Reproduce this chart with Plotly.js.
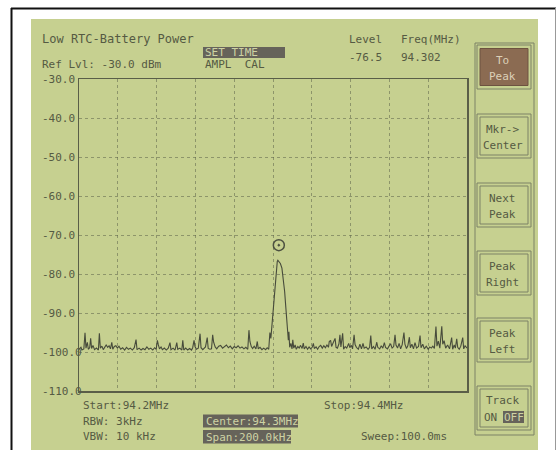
<!DOCTYPE html>
<html><head><meta charset="utf-8">
<script src="https://cdn.plot.ly/plotly-3.0.1.min.js"></script>
<style>html,body{margin:0;padding:0;background:#fff;}#chart{width:557px;height:450px;}</style>
</head><body><div id="chart"></div><script>
// Trace: frequency offset from 94.2 MHz (kHz) and level (dBm)
const freqKHz = [0.0,1.0,1.5,2.5,3.1,3.6,4.3,4.8,5.5,6.0,6.5,7.2,8.0,9.0,10.0,10.5,11.0,11.8,12.5,13.3,14.0,14.8,15.5,16.2,16.9,17.4,18.2,19.0,19.8,20.6,21.5,22.5,23.5,24.5,25.5,26.5,27.5,28.5,29.4,29.9,31.0,32.0,33.0,34.0,35.0,36.0,37.0,38.0,39.0,39.8,40.4,40.9,41.5,42.3,43.0,44.0,45.0,46.0,46.9,47.4,48.5,49.5,50.4,50.9,52.0,53.0,53.5,54.0,55.0,56.0,57.0,58.0,58.6,59.3,59.8,60.5,61.5,62.4,62.9,63.8,64.5,65.2,66.1,66.6,67.5,68.3,68.9,69.4,70.2,71.0,72.0,73.0,74.0,75.0,76.0,77.0,78.0,79.0,80.0,81.0,82.0,83.0,84.0,85.0,86.0,87.0,87.6,88.1,88.8,89.5,90.3,91.2,91.9,92.4,93.3,94.3,95.2,96.2,97.0,97.8,98.4,98.9,99.4,100.2,101.0,101.6,102.2,102.5,103.0,103.8,104.6,105.3,106.0,106.6,107.2,107.9,108.2,108.6,109.2,109.8,110.2,110.7,111.4,112.0,112.8,113.5,114.2,115.0,115.6,116.1,117.0,117.8,118.6,119.4,120.2,120.8,121.3,122.2,123.0,123.8,124.6,125.4,126.2,127.0,127.8,128.6,129.0,129.7,130.2,131.0,131.5,132.0,132.5,133.2,134.0,134.5,135.0,135.9,136.4,137.2,138.0,139.0,139.6,140.4,141.0,141.8,142.3,143.0,144.0,144.8,145.6,146.4,147.0,148.0,149.0,149.8,150.4,150.9,151.8,152.6,153.5,154.0,155.0,155.8,156.6,157.4,158.0,159.0,159.8,160.6,161.4,162.2,162.9,163.4,164.2,165.0,165.8,166.6,167.5,168.0,168.8,169.5,170.3,170.8,171.6,172.4,173.2,174.0,175.0,175.8,176.3,177.2,178.0,179.0,180.0,180.8,181.6,182.4,183.2,184.0,184.5,185.2,186.0,187.0,187.5,188.2,189.0,190.0,191.0,192.1,192.6,193.4,194.0,194.7,195.2,196.0,196.8,197.8,198.3,199.0,200.0];
const levelDbm = [-99.3,-98.8,-99.5,-99.2,-95.1,-99.0,-97.5,-99.3,-98.9,-96.5,-99.1,-98.3,-99.4,-99.0,-99.5,-95.2,-99.0,-98.5,-99.4,-98.6,-98.2,-98.8,-98.4,-99.2,-97.5,-99.3,-98.6,-98.4,-99.0,-98.5,-99.3,-98.9,-99.5,-98.8,-99.3,-99.0,-99.5,-98.9,-96.8,-99.4,-99.0,-99.5,-99.1,-99.4,-98.7,-99.3,-99.0,-99.5,-98.9,-99.3,-97.0,-98.2,-99.2,-98.7,-99.4,-99.0,-99.5,-99.0,-97.6,-99.4,-99.0,-99.5,-97.6,-99.3,-99.0,-99.5,-97.0,-99.5,-99.0,-99.5,-99.1,-99.5,-98.9,-97.0,-98.6,-99.3,-99.0,-95.3,-98.9,-99.4,-99.0,-98.7,-96.3,-99.1,-99.3,-99.2,-95.6,-97.5,-98.7,-99.2,-98.5,-98.3,-99.0,-98.6,-98.2,-98.9,-98.5,-99.2,-98.6,-98.9,-98.4,-99.0,-98.7,-99.2,-98.8,-99.3,-94.4,-97.3,-98.6,-99.1,-98.5,-99.2,-97.3,-99.2,-98.8,-99.4,-99.0,-99.4,-98.9,-99.3,-95.0,-96.5,-93.5,-87.5,-82.5,-79.5,-76.8,-76.5,-76.8,-77.3,-78.5,-81.0,-84.5,-88.5,-92.5,-97.0,-94.8,-98.8,-97.8,-99.2,-96.9,-99.0,-98.2,-99.3,-98.6,-99.0,-98.3,-99.1,-97.7,-99.2,-98.6,-99.3,-98.7,-99.2,-98.8,-97.8,-99.1,-98.7,-99.3,-98.6,-98.3,-99.0,-98.4,-98.9,-98.2,-98.8,-97.3,-97.0,-98.6,-97.5,-97.1,-96.5,-98.8,-99.0,-97.9,-95.6,-98.7,-95.2,-99.3,-98.6,-99.0,-97.8,-98.9,-98.3,-99.2,-95.6,-98.1,-98.8,-99.3,-98.0,-99.2,-97.8,-99.0,-98.7,-99.3,-98.8,-95.8,-99.2,-98.6,-99.3,-97.5,-98.8,-99.2,-98.4,-99.0,-97.6,-98.8,-99.2,-98.5,-97.9,-99.0,-98.6,-95.6,-98.2,-99.0,-97.8,-99.2,-98.1,-95.0,-98.0,-99.1,-98.4,-96.2,-98.9,-98.0,-99.2,-97.6,-99.0,-98.6,-95.8,-98.9,-98.0,-99.2,-98.5,-99.3,-98.7,-99.0,-98.5,-99.1,-93.5,-98.5,-97.2,-99.0,-93.4,-98.0,-97.1,-99.0,-98.2,-99.2,-96.3,-99.3,-98.2,-99.0,-96.6,-98.8,-99.3,-98.5,-96.3,-99.2,-98.4,-99.0];
const markerFreqKHz = [103.0];
const markerLevel = [-72.6];
const yTickValues = [-30,-40,-50,-60,-70,-80,-90,-100,-110];
const yTickLabels = ['-30.0','-40.0','-50.0','-60.0','-70.0','-80.0','-90.0','-100.0','-110.0'];
const buttonLabels = [['To','Peak'],['Mkr->','Center'],['Next','Peak'],['Peak','Right'],['Peak','Left'],['Track','ON']];

// page-pixel -> paper helpers (plot area 79..467 x 79..391)
const L=79,T=79,W=388,H=312;
const px = X => (X-L)/W;
const py = Y => (T+H-Y)/H;

const BG='#c6d090', INK='#555a43', LIGHT='#cdd2a4', DARK='#66635a';
const FONT='DejaVu Sans Mono, monospace';

const shapes=[];
const ann=[];
function rect(X0,Y0,X1,Y1,fill,line,lw,layer){
  shapes.push({type:'rect',xref:'paper',yref:'paper',x0:px(X0),x1:px(X1),y0:py(Y1),y1:py(Y0),
    fillcolor:fill||'rgba(0,0,0,0)',line:{color:line||'rgba(0,0,0,0)',width:lw||0},layer:layer||'above'});
}
function lineS(X0,Y0,X1,Y1,color,w){
  shapes.push({type:'line',xref:'paper',yref:'paper',x0:px(X0),x1:px(X1),y0:py(Y0),y1:py(Y1),line:{color:color,width:w},layer:'above'});
}
function txt(t,X,Y,o){
  o=o||{};
  ann.push({text:t,xref:'paper',yref:'paper',x:px(X),y:py(Y),xanchor:o.anchor||'left',yanchor:'middle',
    showarrow:false,font:{family:FONT,size:o.size||11,color:o.color||INK}});
}

// outer photo frame + LCD area
rect(31,19,538,452,BG,null,0,'below');
lineS(11.5,8,11.5,452,'#111',2);
lineS(11,8.5,556,8.5,'#111',2);
lineS(555.5,8,555.5,452,'#999',1);

// header texts
txt('Low RTC-Battery Power',40,39,{size:12});
txt('Ref Lvl: -30.0 dBm',40,65);
rect(203,47,285,58,DARK);
txt('SET TIME',203,52.5,{color:LIGHT});
txt('AMPL  CAL',203,65);
txt('Level',347,39);
txt('Freq(MHz)',399,39);
txt('-76.5',347,57);
txt('94.302',399,57);

// footer texts
txt('Start:94.2MHz',81,405);
txt('Stop:94.4MHz',322,405);
txt('RBW: 3kHz',81,421);
txt('VBW: 10 kHz',81,436);
rect(203,414.5,298,427.5,DARK);
txt('Center:94.3MHz',204,421,{color:LIGHT});
rect(203,430,291,443.5,DARK);
txt('Span:200.0kHz',204,437,{color:LIGHT});
txt('Sweep:100.0ms',359,436);

// y tick labels (left aligned like the instrument)
yTickValues.forEach((v,i)=>{
  ann.push({text:yTickLabels[i],xref:'paper',yref:'y',x:px(40),y:v,xanchor:'left',yanchor:'middle',
    showarrow:false,font:{family:FONT,size:11,color:INK}});
});

// soft-key panel
rect(475,43,534,435,null,'#7d8266',1);
const btnTop=[45,114,183,251,318,386];
btnTop.forEach((y0,i)=>{
  const y1=y0+44;
  rect(477,y0,531,y1,null,'#7d8266',1);
  if(i===0){ rect(480,y0+3.5,528,y1-3.5,'#8b6b52','#6d5240',1); }
  else { rect(480,y0+3,528,y1-3,null,'#7d8266',1); }
  const c = i===0 ? '#dcd0b8' : INK;
  txt(buttonLabels[i][0],503,y0+15,{anchor:'center',color:c});
  if(i===5){ txt(buttonLabels[i][1],482,y0+31,{color:c}); }
  else { txt(buttonLabels[i][1],503,y0+31,{anchor:'center',color:c}); }
});
rect(503,411,524,423,DARK);
txt('OFF',513.5,417,{anchor:'center',color:LIGHT});

const data=[
  {x:freqKHz,y:levelDbm,type:'scatter',mode:'lines',line:{color:'#474b3b',width:1.1},hoverinfo:'skip'},
  {x:markerFreqKHz,y:markerLevel,type:'scatter',mode:'markers',
   marker:{symbol:'circle-open-dot',size:11,color:'#4c5040',line:{width:1.5,color:'#4c5040'}},hoverinfo:'skip'}
];
const layout={
  width:557,height:450,margin:{l:L,r:557-L-W,t:T,b:450-T-H},
  paper_bgcolor:'#ffffff',plot_bgcolor:'rgba(0,0,0,0)',showlegend:false,
  xaxis:{range:[0,200],dtick:20,tick0:0,showticklabels:false,ticks:'',showgrid:true,
    gridcolor:'rgba(95,100,75,0.55)',griddash:'dot',gridwidth:1,zeroline:false,
    showline:true,mirror:true,linecolor:'#5a5e48',linewidth:1.5,fixedrange:true},
  yaxis:{range:[-110,-30],dtick:10,tick0:-110,showticklabels:false,ticks:'',showgrid:true,
    gridcolor:'rgba(95,100,75,0.55)',griddash:'dot',gridwidth:1,zeroline:false,
    showline:true,mirror:true,linecolor:'#5a5e48',linewidth:1.5,fixedrange:true},
  shapes:shapes,annotations:ann
};
Plotly.newPlot('chart',data,layout,{displayModeBar:false,staticPlot:true});
</script></body></html>
